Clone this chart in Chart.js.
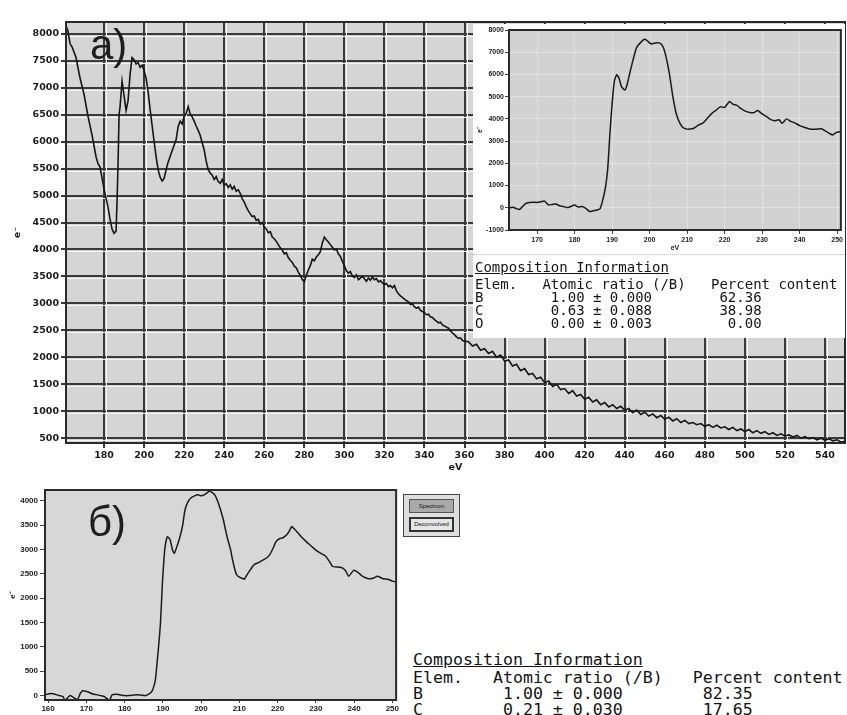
<!DOCTYPE html>
<html lang="ru">
<head>
<meta charset="UTF-8">
<title>EELS spectra</title>
<script src="https://cdn.jsdelivr.net/npm/chart.js@4"></script>
<style>
    body { margin: 0; background: #fff; }
    #page { position: relative; width: 847px; height: 715px; overflow: hidden; background: #fff; }
    canvas, .abs { position: absolute; }
    .tag { font-family: "Liberation Sans", sans-serif; font-size: 42px; line-height: 1; color: #1e1e1e; }
    .tbl { font-family: "DejaVu Sans Mono", monospace; color: #141414; }
    .tbl div { white-space: pre; }
    .tbl .head { text-decoration: underline; }
    .btn { position: absolute; font-family: "Liberation Sans", sans-serif; font-size: 6px; text-align: center; color: #111; box-sizing: border-box; }
</style>
</head>
<body>
<div id="page">
    <canvas id="mainChart" width="847" height="475" style="left:0;top:0"></canvas>
    <div class="tag abs" style="left:90px;top:24px">a)</div>

    <div class="abs" style="left:473px;top:24px;width:372px;height:314px;background:#fff"></div>
    <canvas id="insetChart" width="372" height="232" style="left:473px;top:24px"></canvas>
    <div class="abs" style="left:473px;top:254px;width:372px;border-top:1px dotted #bdbdbd"></div>
    <div class="tbl abs" style="left:475px;top:261px;font-size:14px;line-height:13px"><div class="head" style="margin-bottom:4px">Composition Information</div><div id="rowsA"></div></div>

    <canvas id="bottomChart" width="400" height="235" style="left:0;top:480px"></canvas>
    <div class="tag abs" style="left:88px;top:501px">б)</div>
    <div class="abs" style="left:403px;top:494px;width:55px;height:41px;border:1px solid #444;background:#dedede">
        <div class="btn" style="left:5px;top:4px;width:45px;height:14px;line-height:12px;background:#a9a9a9;border:1px solid #555">Spectrum</div>
        <div class="btn" style="left:5px;top:22px;width:45px;height:15px;line-height:11px;background:#e6e6e6;border:2px solid #333">Deconvolved</div>
    </div>
    <div class="tbl abs" style="left:413px;top:652px;font-size:16.6px;line-height:16px"><div class="head" style="margin-bottom:2px">Composition Information</div><div id="rowsB"></div></div>
</div>

<script>
// основной спектр (а), eV / отсчёты
const mainEv = [161,162,163,164,166,168,170,172,174,176,177,178,180,182,183,184,185,186,186.5,187,187.5,188,189,190,191,192,193,194,195,196,197,198,199,200,
    201,202,203,204,205,206,207,208,209,210,211,212,214,216,217,218,219,220,221,222,223,224,225,226,227,228,229,230,
    231,232,233,234,235,236,237,238,239,240,241,242,243,244,245,246,247,248,249,250,251,252,253,254,255,256,257,258,259,260,
    261,262,263,264,265,266,267,268,269,270,271,272,273,274,275,276,277,278,279,280,281,282,283,284,285,286,287,288,289,290,
    291,292,293,294,295,296,297,298,299,300,301,302,303,304,305,306,307,308,309,310,311,312,313,314,315,316,317,318,319,320,
    321,322,323,324,325,326,327,328,329,330,331,332,333,334,335,336,337,338,339,340,341,342,343,344,345,346,347,348,349,350,
    351,352,353,354,355,356,357,358,359,360,362,364,366,368,370,372,374,376,378,380,382,384,386,388,390,392,394,396,398,400,
    402,404,406,408,410,412,414,416,418,420,422,424,426,428,430,432,434,436,438,440,442,444,446,448,450,452,454,456,458,460,
    462,464,466,468,470,472,474,476,478,480,482,484,486,488,490,492,494,496,498,500,502,504,506,508,510,512,514,516,518,520,
    522,524,526,528,530,532,534,536,538,540,542,544,546,548,550];
const mainCounts = [8150,8050,7820,7760,7560,7180,6880,6470,6120,5720,5590,5530,5120,4780,4560,4380,4300,4340,4900,5600,6500,6650,7120,6850,6580,6760,7250,7560,7520,7440,7470,7380,7420,7320,
    7180,6920,6600,6300,6000,5720,5480,5340,5270,5320,5480,5620,5830,6040,6280,6380,6330,6470,6520,6650,6520,6460,6380,6290,6210,6120,5980,5850,
    5640,5480,5420,5380,5300,5350,5260,5230,5300,5190,5220,5150,5200,5120,5170,5080,5110,5040,4940,4880,4790,4720,4660,4610,4620,4540,4560,4470,4500,4420,
    4380,4310,4330,4230,4200,4150,4090,4030,3990,3920,3940,3850,3800,3760,3690,3660,3580,3520,3440,3400,3520,3620,3700,3820,3790,3860,3900,3960,4120,4230,
    4180,4140,4090,4040,3990,4010,3920,3870,3780,3700,3610,3560,3590,3510,3480,3530,3440,3470,3500,3460,3410,3470,3430,3490,3440,3460,3400,3420,3380,3350,
    3370,3310,3330,3290,3330,3230,3180,3140,3110,3080,3050,3030,2980,2990,2940,2910,2930,2870,2850,2830,2790,2800,2750,2740,2700,2670,2640,2650,2600,2580,
    2560,2540,2490,2450,2420,2380,2350,2360,2310,2300,2290,2210,2240,2130,2160,2070,2110,2000,2040,1930,1950,1840,1870,1750,1790,1680,1700,1600,1630,1530,
    1560,1460,1500,1400,1420,1330,1380,1280,1310,1220,1260,1170,1210,1120,1160,1080,1120,1050,1090,1020,1050,970,1020,940,980,910,950,880,920,850,
    890,820,860,790,830,770,790,750,770,720,750,700,740,690,710,660,700,640,670,620,660,600,640,590,620,570,600,550,580,540,
    560,520,550,500,530,490,510,470,500,460,490,450,470,430,440];
const mainXTicks = [180,200,220,240,260,280,300,320,340,360,380,400,420,440,460,480,500,520,540];
const mainYTicks = [500,1000,1500,2000,2500,3000,3500,4000,4500,5000,5500,6000,6500,7000,7500,8000];

// вставка (а), после вычитания фона
const insetEv = [162.5,163.5,164.5,165.2,166,167,168,169,170,171,172,173,174,175,176,177,178,179,180,181,182,183,184,185,186,186.8,
    187.5,188.2,188.8,189.4,190,190.6,191.2,191.8,192.5,193.4,194,194.7,195.5,196.5,197.5,198.7,199.5,200.3,201.2,202.2,203,203.7,204.5,205.3,
    206.2,207,207.8,208.8,209.7,210.7,211.8,213,214.3,215.5,216.6,217.8,218.8,220,221.3,222.3,223.2,224.2,225.5,226.7,227.8,228.8,229.8,231,
    232.2,233.5,234.5,235.3,236.5,237.6,238.7,240,241.2,242.4,243.5,244.6,245.8,246.9,248,248.8,249.7,251];
const insetCounts = [0,20,-40,-80,30,200,240,250,240,270,300,130,150,170,90,60,10,60,120,30,60,-30,-170,-130,-100,-40,
    350,900,1700,3300,4700,5700,5980,5850,5450,5300,5550,6050,6600,7200,7420,7580,7500,7380,7400,7430,7380,7200,6700,6000,
    5000,4300,3900,3620,3550,3540,3580,3720,3820,4050,4250,4400,4540,4520,4780,4650,4620,4480,4350,4290,4280,4380,4250,4120,
    3980,3920,3960,3800,4000,3890,3820,3700,3620,3560,3530,3540,3560,3450,3340,3280,3380,3430];
const insetXTicks = [170,180,190,200,210,220,230,240,250];
const insetYTicks = [-1000,0,1000,2000,3000,4000,5000,6000,7000,8000];

// спектр (б)
const bEv = [159.3,160.3,161.3,162.5,163.9,164.4,165.7,166.5,167.7,168.4,169,170.3,171.5,172.6,173.7,174.7,176,176.8,177.8,178.6,180,181.1,182.2,183.2,184.3,185.5,
    186.3,187.1,187.7,188.1,188.6,189,189.4,189.9,190.3,190.6,191.2,191.9,192.5,193,193.6,194.5,195.2,195.8,196.6,197.4,198.3,199.2,200.1,201,
    201.7,202.3,203,203.6,204.4,205.1,205.8,206.4,207,207.7,208.2,208.7,209.3,210,210.7,211.3,212,212.6,213.3,213.9,215,216.4,217.2,218,
    218.8,219.6,220.5,221.4,222.4,223.1,223.7,224.4,225,226.2,227.5,228.8,230.1,231.3,232.6,233.5,234.4,235.7,237,237.8,238.6,239.9,241,242.2,
    243,243.8,245,246.1,247,247.6,248.8,250,251];
const bCounts = [20,40,40,10,-20,-100,0,-30,-80,40,100,80,40,20,0,-20,-100,20,30,20,0,0,10,20,10,0,
    30,80,200,350,750,1100,1500,2320,2800,3060,3260,3200,3000,2920,3040,3260,3500,3810,3980,4060,4100,4120,4100,4130,
    4170,4200,4160,4120,3980,3810,3620,3400,3200,3000,2800,2630,2480,2430,2410,2390,2480,2550,2630,2690,2730,2790,2830,2900,
    3020,3160,3220,3240,3300,3380,3470,3420,3370,3260,3160,3070,2980,2920,2860,2760,2650,2640,2620,2560,2450,2570,2530,2450,
    2420,2400,2410,2450,2420,2400,2390,2350,2330];
const bXTicks = [160,170,180,190,200,210,220,230,240,250];
const bYTicks = [0,500,1000,1500,2000,2500,3000,3500,4000];

// таблицы состава
const elemA = ['B', 'C', 'O'];
const ratioA = ['1.00 ± 0.000', '0.63 ± 0.088', '0.00 ± 0.003'];
const percentA = ['62.36', '38.98', '0.00'];
const elemB = ['B', 'C'];
const ratioB = ['1.00 ± 0.000', '0.21 ± 0.030'];
const percentB = ['82.35', '17.65'];

function fillTable(id, elems, ratios, percents) {
    const lines = ['Elem.   Atomic ratio (/B)   Percent content'];
    elems.forEach((e, i) => {
        lines.push(e.padEnd(9) + ratios[i] + percents[i].padStart(13));
    });
    document.getElementById(id).innerHTML = lines.map(l => '<div>' + l + '</div>').join('');
}
fillTable('rowsA', elemA, ratioA, percentA);
fillTable('rowsB', elemB, ratioB, percentB);

const toXY = (xs, ys) => xs.map((x, i) => ({ x: x, y: ys[i] }));
const fixTicks = list => scale => { scale.ticks = list.map(v => ({ value: v })); };
const plain = v => String(v);

// фон области графика и рамка
function panel(bg, frame, frameWidth, pageBg) {
    return {
        id: 'panel',
        beforeDraw(chart) {
            const { ctx, chartArea: a } = chart;
            ctx.save();
            if (pageBg) {
                ctx.fillStyle = pageBg;
                ctx.fillRect(0, 0, chart.width, chart.height);
            }
            ctx.fillStyle = bg;
            ctx.fillRect(a.left, a.top, a.right - a.left, a.bottom - a.top);
            ctx.restore();
        },
        afterDatasetsDraw(chart) {
            const { ctx, chartArea: a } = chart;
            ctx.save();
            ctx.strokeStyle = frame;
            ctx.lineWidth = frameWidth;
            ctx.strokeRect(a.left, a.top, a.right - a.left, a.bottom - a.top);
            ctx.restore();
        }
    };
}

// светлая полоска рядом с тёмными линиями сетки
const etchedGrid = {
    id: 'etchedGrid',
    beforeDatasetsDraw(chart) {
        const { ctx, chartArea: a, scales: { x, y } } = chart;
        ctx.save();
        ctx.strokeStyle = '#f6f6f6';
        ctx.lineWidth = 1;
        ctx.beginPath();
        mainXTicks.forEach(v => {
            const px = Math.round(x.getPixelForValue(v)) + 2.5;
            ctx.moveTo(px, a.top);
            ctx.lineTo(px, a.bottom);
        });
        mainYTicks.forEach(v => {
            const py = Math.round(y.getPixelForValue(v)) + 2.5;
            ctx.moveTo(a.left, py);
            ctx.lineTo(a.right, py);
        });
        ctx.stroke();
        ctx.restore();
    }
};

const tickFont = { family: 'DejaVu Sans', size: 9.5, weight: 'bold' };
const smallFont = { family: 'Liberation Sans', size: 7, weight: 'bold' };
const midFont = { family: 'Liberation Sans', size: 8, weight: 'bold' };

new Chart(document.getElementById('mainChart'), {
    type: 'line',
    data: {
        datasets: [{
            data: toXY(mainEv, mainCounts),
            borderColor: '#161616',
            borderWidth: 1.6,
            pointRadius: 0,
            tension: 0
        }]
    },
    options: {
        responsive: false,
        animation: false,
        layout: { padding: { top: 22, right: 2, left: 0, bottom: 0 } },
        plugins: { legend: { display: false }, tooltip: { enabled: false } },
        scales: {
            x: {
                type: 'linear', min: 161, max: 550,
                afterBuildTicks: fixTicks(mainXTicks),
                afterFit: s => { s.height = 32; },
                grid: { color: '#3a3a3a', lineWidth: 2, tickLength: 5 },
                border: { display: false },
                ticks: { font: tickFont, color: '#1c1c1c', padding: 2, maxRotation: 0, autoSkip: false, callback: plain },
                title: { display: true, text: 'eV', font: tickFont, color: '#1c1c1c', padding: { top: 0, bottom: 2 } }
            },
            y: {
                type: 'linear', min: 410, max: 8220,
                afterBuildTicks: fixTicks(mainYTicks),
                afterFit: s => { s.width = 66; },
                grid: { color: '#3a3a3a', lineWidth: 2, tickLength: 5 },
                border: { display: false },
                ticks: { font: tickFont, color: '#1c1c1c', padding: 2, autoSkip: false, callback: plain },
                title: { display: true, text: 'e⁻', font: tickFont, color: '#1c1c1c', padding: { top: 12, bottom: 0 } }
            }
        }
    },
    plugins: [panel('#d5d5d5', '#2a2a2a', 2), etchedGrid]
});

new Chart(document.getElementById('insetChart'), {
    type: 'line',
    data: {
        datasets: [{
            data: toXY(insetEv, insetCounts),
            borderColor: '#1a1a1a',
            borderWidth: 1.5,
            pointRadius: 0,
            tension: 0.2
        }]
    },
    options: {
        responsive: false,
        animation: false,
        layout: { padding: { top: 6, right: 3, left: 0, bottom: 0 } },
        plugins: { legend: { display: false }, tooltip: { enabled: false } },
        scales: {
            x: {
                type: 'linear', min: 162.5, max: 251,
                afterBuildTicks: fixTicks(insetXTicks),
                afterFit: s => { s.height = 26; },
                grid: { color: 'rgba(255,255,255,0.3)', lineWidth: 1, tickLength: 4, tickColor: '#444' },
                border: { display: false },
                ticks: { font: smallFont, color: '#222', padding: 2, maxRotation: 0, autoSkip: false, callback: plain },
                title: { display: true, text: 'eV', font: smallFont, color: '#222', padding: { top: 0, bottom: 4 } }
            },
            y: {
                type: 'linear', min: -1000, max: 8000,
                afterBuildTicks: fixTicks(insetYTicks),
                afterFit: s => { s.width = 36; },
                grid: { color: 'rgba(255,255,255,0.3)', lineWidth: 1, tickLength: 4, tickColor: '#444' },
                border: { display: false },
                ticks: { font: smallFont, color: '#222', padding: 1, autoSkip: false, callback: plain },
                title: { display: true, text: 'e⁻', font: smallFont, color: '#222', padding: { top: 3, bottom: 0 } }
            }
        }
    },
    plugins: [panel('#d2d2d2', '#2a2a2a', 2, '#ffffff')]
});

new Chart(document.getElementById('bottomChart'), {
    type: 'line',
    data: {
        datasets: [{
            data: toXY(bEv, bCounts),
            borderColor: '#1a1a1a',
            borderWidth: 1.5,
            pointRadius: 0,
            tension: 0.2
        }]
    },
    options: {
        responsive: false,
        animation: false,
        layout: { padding: { top: 10, right: 2, left: 0, bottom: 0 } },
        plugins: { legend: { display: false }, tooltip: { enabled: false } },
        scales: {
            x: {
                type: 'linear', min: 159.2, max: 251,
                afterBuildTicks: fixTicks(bXTicks),
                afterFit: s => { s.height = 15; },
                grid: { display: true, drawOnChartArea: false, tickLength: 3, tickColor: '#444' },
                border: { display: false },
                ticks: { font: midFont, color: '#222', padding: 1, maxRotation: 0, autoSkip: false, callback: plain }
            },
            y: {
                type: 'linear', min: -90, max: 4220,
                afterBuildTicks: fixTicks(bYTicks),
                afterFit: s => { s.width = 45; },
                grid: { display: true, drawOnChartArea: false, tickLength: 5, tickColor: '#444' },
                border: { display: false },
                ticks: { font: midFont, color: '#222', padding: 2, autoSkip: false, callback: plain },
                title: { display: true, text: 'e⁻', font: midFont, color: '#222', padding: { top: 8, bottom: 0 } }
            }
        }
    },
    plugins: [panel('#d7d7d7', '#2a2a2a', 2)]
});
</script>
</body>
</html>
